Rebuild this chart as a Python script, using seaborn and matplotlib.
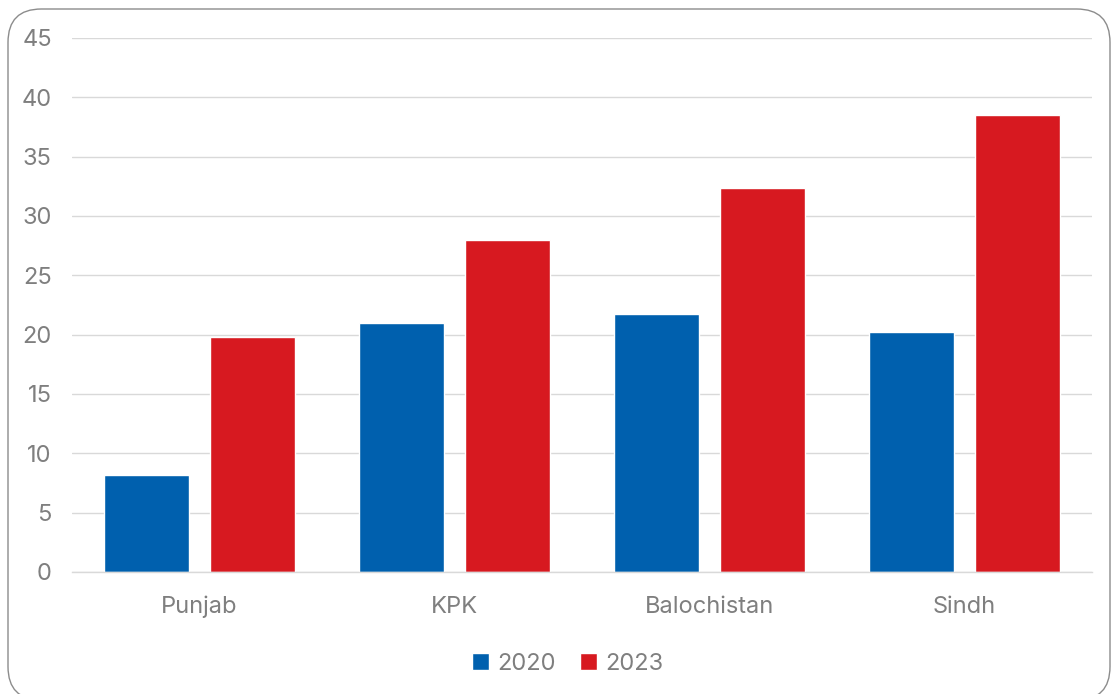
import matplotlib
matplotlib.use("Agg")
import matplotlib.pyplot as plt
import seaborn as sns
import pandas as pd
from matplotlib.patches import FancyBboxPatch

categories = ["Punjab", "KPK", "Balochistan", "Sindh"]
values_2020 = [8.2, 21.0, 21.7, 20.2]
values_2023 = [19.8, 28.0, 32.4, 38.5]
series = ["2020", "2023"]
colors = ["#0060AE", "#D71920"]
yticks = [0, 5, 10, 15, 20, 25, 30, 35, 40, 45]

df = pd.DataFrame({
    "Province": categories * 2,
    "Year": [series[0]] * 4 + [series[1]] * 4,
    "Value": values_2020 + values_2023,
})

sns.set_theme(style="white")
plt.rcParams["font.family"] = ["Inter", "DejaVu Sans"]

W, H = 1112, 694
fig = plt.figure(figsize=(W / 100, H / 100), dpi=100)
ax = fig.add_axes([72 / W, 1 - 572 / H, (1092 - 72) / W, (572 - 38) / H])

sns.barplot(data=df, x="Province", y="Value", hue="Year", palette=colors,
            width=0.83, gap=0.2, ax=ax, saturation=1, legend=True)

ax.set_ylim(0, 45)
ax.set_xlim(-0.5, 3.5)
ax.set_yticks(yticks)
ax.set_axisbelow(True)
ax.yaxis.grid(True, color="#d9d9d9", linewidth=1)
ax.xaxis.grid(False)
for s in ["top", "right", "left"]:
    ax.spines[s].set_visible(False)
ax.spines["bottom"].set_color("#d9d9d9")
ax.spines["bottom"].set_linewidth(1)
ax.tick_params(axis="both", length=0, labelsize=17, colors="#7f7f7f")
ax.tick_params(axis="y", pad=14.5)
ax.tick_params(axis="x", pad=17)
ax.set_xlabel("")
ax.set_ylabel("")

leg = ax.legend(loc="upper center", bbox_to_anchor=(0.486, -0.112), ncol=2, frameon=False,
                fontsize=17, handlelength=0.72, handleheight=0.72, handletextpad=0.35,
                columnspacing=1.0)
for t in leg.get_texts():
    t.set_color("#7f7f7f")

box = FancyBboxPatch((8 / W, 1 - 700 / H), (1110 - 8) / W, (700 - 9) / H,
                     boxstyle="round,pad=0,rounding_size=0.03",
                     transform=fig.transFigure, facecolor="none",
                     edgecolor="#8c8c8c", linewidth=1, mutation_aspect=W / H)
fig.patches.append(box)

fig.savefig("out.png", dpi=100)
